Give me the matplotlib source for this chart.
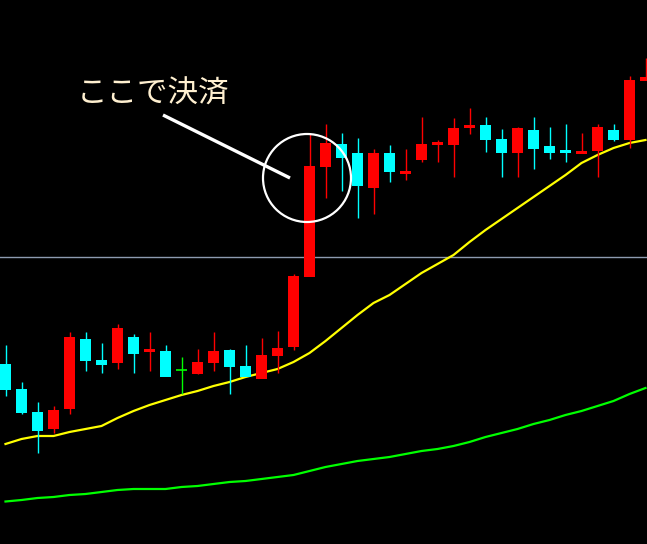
import matplotlib
matplotlib.use("Agg")
import matplotlib.pyplot as plt
from matplotlib.patches import Ellipse
import numpy as np

plt.rcParams['font.family'] = ['Noto Sans CJK JP', 'DejaVu Sans']

# Candle data (price units)
opens = [181, 156, 133, 116, 136, 206, 185, 182, 208, 193, 194, 174, 171, 182, 195, 179, 166, 189, 198, 268,
         378, 401, 392, 357, 392, 371, 385, 400, 400, 417, 420, 406, 392, 415, 399, 395, 391, 394, 415, 405, 464]
highs = [199, 162, 142, 138, 212, 212, 201, 220, 210, 212, 199, 187, 195, 212, 195, 199, 206, 213, 270, 411,
         420, 411, 406, 395, 399, 395, 427, 404, 426, 436, 427, 415, 417, 427, 417, 420, 411, 420, 420, 468, 486]
lows = [148, 130, 91, 111, 130, 173, 171, 175, 171, 173, 168, 150, 170, 173, 150, 168, 166, 171, 194, 268,
        346, 353, 326, 330, 362, 364, 382, 382, 367, 410, 392, 367, 367, 375, 385, 382, 391, 367, 403, 396, 464]
closes = [155, 132, 114, 135, 208, 184, 180, 217, 191, 195, 168, 174, 183, 194, 178, 168, 190, 197, 269, 379,
          402, 387, 359, 392, 373, 374, 401, 402, 417, 420, 405, 392, 417, 396, 392, 392, 393, 418, 405, 465, 468]

ma_fast = [100, 105, 108, 108, 112, 115, 118, 126, 133, 139, 144, 149, 153, 158, 162, 167, 171, 175, 182, 191,
           203, 216, 229, 241, 249, 260, 271, 280, 289, 302, 314, 325, 336, 347, 358, 369, 381, 389, 396, 401, 404]
ma_slow = [42.5, 44, 46, 47, 49, 50, 52, 54, 55, 55, 55, 57, 58, 60, 62, 63, 65, 67, 69, 73,
           77, 80, 83, 85, 87, 90, 93, 95, 98, 102, 107, 111, 115, 120, 124, 129, 133, 138, 143, 150, 156]

hline_level = 287.5
label_text = "ここで決済"

UP = '#ff0000'
DOWN = '#00ffff'
DOJI = '#00ff00'

fig = plt.figure(figsize=(6.47, 5.44), dpi=100, facecolor='black')
ax = fig.add_axes([0, 0, 1, 1])
ax.set_facecolor('black')

n = len(opens)
x = np.arange(n)
body_w = 0.7

# moving averages
ax.plot(x, ma_slow, color='#00ff00', lw=1.6, zorder=2)
ax.plot(x, ma_fast, color='#ffff00', lw=1.6, zorder=2)

# horizontal level
ax.axhline(hline_level, color='#8d9bb0', lw=1.0, zorder=1)

for i in range(n):
    o, h, l, c = opens[i], highs[i], lows[i], closes[i]
    if c > o:
        col = UP
    elif c < o:
        col = DOWN
    else:
        col = DOJI
    ax.vlines(i, l, h, color=col, lw=1.0, zorder=3)
    if col == DOJI:
        ax.hlines(o, i - body_w / 2, i + body_w / 2, color=col, lw=1.2, zorder=4)
    else:
        bottom = min(o, c)
        height = max(abs(c - o), 2.5)
        ax.bar(i, height, bottom=bottom - 0.5, width=body_w, color=col, edgecolor='none', zorder=4)

ax.set_xlim(-5.5 / 16, 641.5 / 16)
ax.set_ylim(0, 544)
ax.axis('off')

# annotation
W, H = 647, 544
ax.text(77 / W, 1 - 94 / H, label_text, transform=ax.transAxes, color='#fff0d0',
        fontsize=22, ha='left', va='center', zorder=6)
ax.plot([163 / W, 290 / W], [1 - 115 / H, 1 - 178 / H], transform=ax.transAxes,
        color='white', lw=2.4, solid_capstyle='butt', zorder=6)
ax.add_patch(Ellipse((307 / W, 1 - 178 / H), 88 / W, 88 / H, transform=ax.transAxes,
                     fill=False, edgecolor='white', lw=1.6, zorder=6))

fig.savefig('out.png', dpi=100, facecolor='black')
